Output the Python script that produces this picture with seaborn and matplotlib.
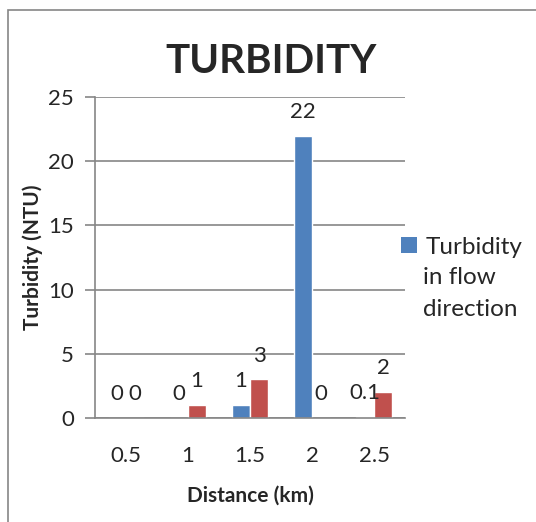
import matplotlib
matplotlib.use("Agg")
import matplotlib.pyplot as plt
import seaborn as sns
import pandas as pd
from matplotlib.patches import Rectangle, Patch

distance = ["0.5", "1", "1.5", "2", "2.5"]
flow_direction = [0, 0, 1, 22, 0.1]
second_series = [0, 1, 3, 0, 2]
series_names = ["Turbidity in flow direction", "Turbidity (other)"]

df = pd.DataFrame({
    "Distance": distance * 2,
    "Turbidity": flow_direction + second_series,
    "Series": [series_names[0]] * len(distance) + [series_names[1]] * len(distance),
})

sns.set_theme(style="white")
plt.rcParams["font.family"] = ["Lato", "DejaVu Sans"]

fig = plt.figure(figsize=(5.36, 5.22), dpi=100)
ax = fig.add_axes([95 / 536, 104 / 522, 310 / 536, 321 / 522])

colors = ["#4F81BD", "#C0504D"]
sns.barplot(data=df, x="Distance", y="Turbidity", hue="Series", order=distance,
            hue_order=series_names, palette=colors, width=0.58, ax=ax,
            saturation=1, legend=False)

ax.set_ylim(0, 25)
ax.set_yticks([0, 5, 10, 15, 20, 25])
ax.yaxis.grid(True, color="#868686", linewidth=1.2)
ax.set_axisbelow(True)
for s in ["top", "right"]:
    ax.spines[s].set_visible(False)
ax.spines["left"].set_color("#868686")
ax.spines["bottom"].set_color("#868686")
ax.spines["left"].set_linewidth(1.2)
ax.spines["bottom"].set_linewidth(1.2)
ax.tick_params(axis="y", length=7, color="#868686", width=1.2, labelsize=16, pad=8, left=True)
ax.tick_params(axis="x", length=0, labelsize=16, pad=20)

for cont in ax.containers:
    ax.bar_label(cont, fmt="%g", padding=10, fontsize=16)

ax.set_xlabel("Distance (km)", fontsize=15, fontweight="bold", labelpad=14)
ax.set_ylabel("Turbidity (NTU)", fontsize=15, fontweight="bold", labelpad=4)
fig.text(0.505, 0.883, "TURBIDITY", ha="center", va="center", fontsize=29, fontweight="bold")

handle = Patch(facecolor=colors[0], edgecolor="none")
leg = fig.legend([handle], ["Turbidity"], loc="center left",
                 bbox_to_anchor=(379 / 536, 1 - 247 / 522), frameon=False,
                 prop={"size": 17.5, "family": ["Lato", "DejaVu Sans"]},
                 handlelength=0.65, handleheight=0.65, handletextpad=0.35)
fig.text(423 / 536, 1 - 267 / 522, "in flow\ndirection", ha="left", va="top",
         fontsize=17.5, linespacing=1.65)

fig.patches.append(Rectangle((8 / 536, -0.1), 1.2, 1 - 10 / 522 + 0.1, transform=fig.transFigure,
                             fill=False, edgecolor="#868686", linewidth=1.2))

fig.savefig("out.png", dpi=100)
